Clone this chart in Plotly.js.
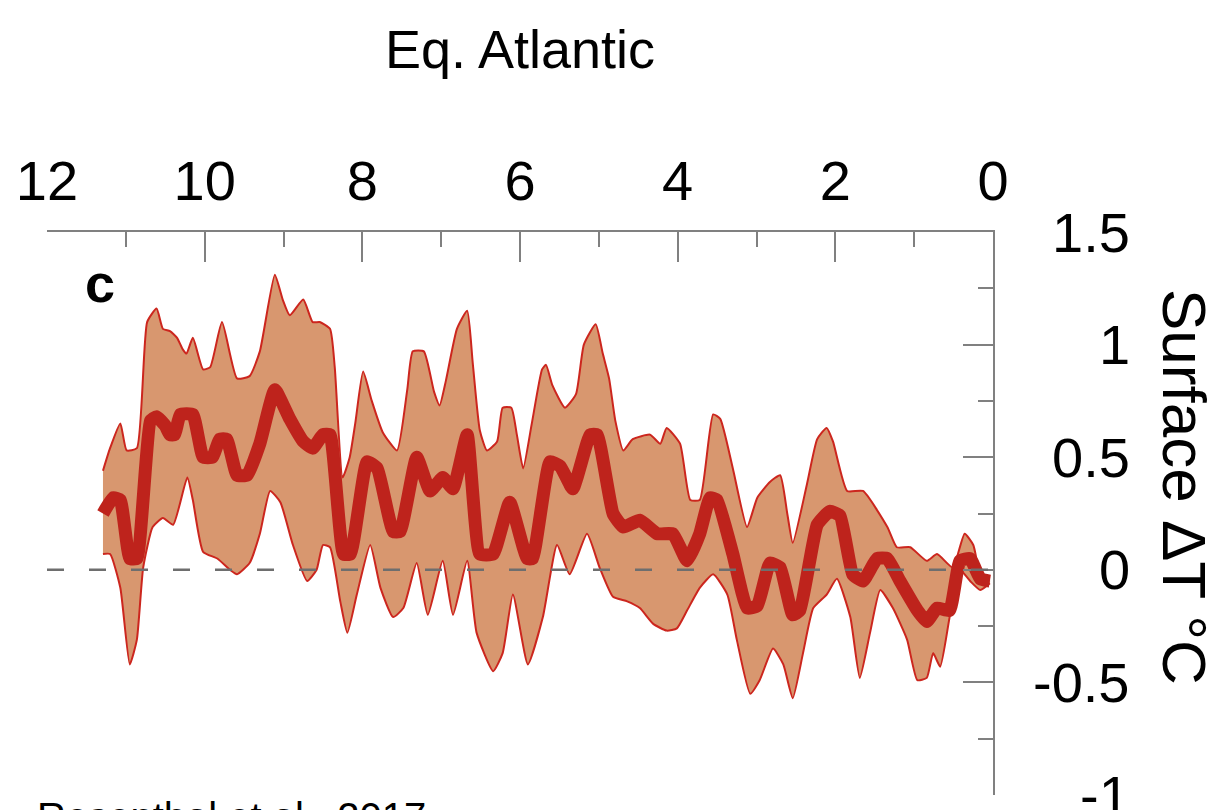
<!DOCTYPE html>
<html>
<head>
<meta charset="utf-8">
<script src="https://cdn.plot.ly/plotly-3.0.1.min.js"></script>
<style>html,body{margin:0;padding:0;background:#fff;}#chart{width:1228px;height:810px;}</style>
</head>
<body>
<div id="chart"></div>
<script>
// Age in ka BP (x) and surface temperature anomaly in degC (y)
const meanAge = [11.29,11.16,11.07,10.95,10.86,10.69,10.61,10.50,10.44,10.38,10.31,10.15,10.02,9.90,9.81,9.72,9.59,9.46,9.30,9.11,8.92,8.75,8.63,8.50,8.41,8.24,8.15,7.94,7.81,7.61,7.52,7.31,7.14,6.98,6.85,6.67,6.51,6.34,6.13,5.91,5.84,5.62,5.49,5.33,5.11,5.02,4.82,4.69,4.48,4.26,4.06,3.88,3.72,3.59,3.50,3.30,3.12,2.99,2.83,2.70,2.54,2.45,2.23,2.07,1.94,1.78,1.65,1.47,1.34,1.18,0.96,0.84,0.71,0.55,0.42,0.29,0.16,0.04];
const meanT = [0.25,0.32,0.31,0.05,0.05,0.66,0.68,0.64,0.60,0.60,0.69,0.69,0.50,0.50,0.58,0.58,0.42,0.42,0.56,0.80,0.67,0.57,0.54,0.60,0.60,0.07,0.07,0.48,0.45,0.17,0.17,0.50,0.35,0.41,0.36,0.60,0.07,0.07,0.30,0.05,0.05,0.48,0.46,0.36,0.60,0.60,0.25,0.19,0.22,0.16,0.16,0.04,0.16,0.32,0.31,0.07,-0.17,-0.16,0.03,0.01,-0.20,-0.18,0.20,0.26,0.24,-0.02,-0.05,0.05,0.05,-0.05,-0.18,-0.23,-0.17,-0.18,0.04,0.05,-0.04,-0.05];

const upperAge = [11.29,11.20,11.07,10.99,10.86,10.73,10.61,10.53,10.44,10.35,10.28,10.23,10.15,10.02,9.93,9.78,9.59,9.43,9.30,9.11,9.01,8.92,8.75,8.63,8.54,8.41,8.35,8.25,8.16,8.09,7.99,7.88,7.74,7.56,7.43,7.36,7.22,7.09,7.02,6.94,6.80,6.67,6.60,6.51,6.42,6.29,6.22,6.11,6.04,5.96,5.85,5.72,5.67,5.59,5.43,5.29,5.19,5.04,4.95,4.87,4.79,4.69,4.57,4.35,4.22,4.14,3.97,3.84,3.72,3.55,3.46,3.30,3.12,2.99,2.83,2.70,2.61,2.54,2.36,2.23,2.11,2.03,1.85,1.65,1.34,1.22,1.05,0.84,0.71,0.51,0.36,0.25,0.16,0.04];
const upperT = [0.44,0.54,0.65,0.53,0.54,1.10,1.16,1.07,1.06,1.03,0.98,0.96,1.03,0.89,0.90,1.10,0.85,0.86,0.97,1.31,1.20,1.13,1.20,1.10,1.10,1.07,0.90,0.41,0.50,0.65,0.88,0.75,0.61,0.53,0.80,0.97,0.97,0.79,0.73,0.84,1.07,1.15,0.92,0.62,0.53,0.57,0.72,0.72,0.60,0.45,0.65,0.89,0.91,0.82,0.72,0.78,1.00,1.09,0.96,0.85,0.66,0.53,0.58,0.60,0.56,0.63,0.56,0.31,0.31,0.69,0.67,0.45,0.19,0.32,0.39,0.42,0.25,0.12,0.38,0.58,0.63,0.57,0.35,0.35,0.19,0.10,0.10,0.04,0.07,0.01,0.16,0.11,-0.02,-0.04];

const lowerAge = [11.29,11.20,11.07,10.95,10.86,10.78,10.66,10.53,10.40,10.22,10.15,10.02,9.84,9.68,9.59,9.43,9.30,9.17,9.04,8.88,8.70,8.58,8.50,8.41,8.28,8.19,8.07,7.90,7.77,7.61,7.48,7.31,7.17,6.98,6.85,6.67,6.55,6.34,6.22,6.09,5.90,5.71,5.53,5.37,5.15,4.99,4.82,4.64,4.48,4.31,4.14,4.01,3.88,3.72,3.55,3.37,3.25,3.08,2.96,2.79,2.66,2.54,2.41,2.28,2.11,1.98,1.81,1.69,1.56,1.43,1.27,1.09,0.96,0.84,0.76,0.67,0.55,0.42,0.29,0.16,0.04];
const lowerT = [0.07,0.07,-0.08,-0.42,-0.31,0.01,0.19,0.23,0.20,0.41,0.31,0.08,0.05,0.00,-0.02,0.03,0.16,0.35,0.30,0.11,-0.05,0.00,0.11,0.10,-0.14,-0.28,-0.11,0.11,-0.08,-0.21,-0.17,0.03,-0.20,0.04,-0.20,0.04,-0.28,-0.45,-0.37,-0.11,-0.42,-0.21,0.11,-0.02,0.16,0.01,-0.12,-0.14,-0.17,-0.24,-0.27,-0.26,-0.18,-0.08,-0.02,-0.11,-0.31,-0.55,-0.49,-0.35,-0.42,-0.57,-0.37,-0.17,-0.11,-0.04,-0.21,-0.48,-0.28,-0.09,-0.17,-0.31,-0.49,-0.48,-0.37,-0.43,-0.21,0.00,-0.05,-0.09,-0.06];

const xTickVals = [12,10,8,6,4,2,0];
const yTickVals = [1.5,1,0.5,0,-0.5,-1];
const yTickText = ['1.5','1','0.5','0','-0.5','-1'];

const titleText = 'Eq. Atlantic';
const yTitleText = 'Surface \u0394T \u00B0C';
const panelLabel = 'c';
const sourceText = 'Rosenthal et al., 2017';

const FONT = 'Liberation Sans, Arial, sans-serif';
const bandFill = 'rgb(216,151,111)';
const edgeRed = 'rgb(204,38,30)';
const meanRed = 'rgb(190,35,28)';
const grey = 'rgb(128,128,128)';

const bandX = upperAge.concat(lowerAge.slice().reverse());
const bandY = upperT.concat(lowerT.slice().reverse());

const traces = [
  {x: bandX, y: bandY, type: 'scatter', mode: 'lines', fill: 'toself', fillcolor: bandFill, line: {width: 0, shape: 'spline', smoothing: 0.5}, hoverinfo: 'skip', showlegend: false},
  {x: upperAge, y: upperT, type: 'scatter', mode: 'lines', line: {color: edgeRed, width: 2, shape: 'spline', smoothing: 0.5}, showlegend: false},
  {x: lowerAge, y: lowerT, type: 'scatter', mode: 'lines', line: {color: edgeRed, width: 2, shape: 'spline', smoothing: 0.5}, showlegend: false},
  {x: meanAge, y: meanT, type: 'scatter', mode: 'lines', line: {color: meanRed, width: 13, shape: 'spline', smoothing: 0.4}, showlegend: false}
];

const annotations = yTickVals.map((v, i) => ({
  text: yTickText[i], xref: 'paper', yref: 'y', x: 1.147, y: v,
  xanchor: 'right', yanchor: 'middle', showarrow: false,
  font: {family: FONT, size: 56, color: '#000'}
}));
annotations.push({
  text: yTitleText, xref: 'paper', yref: 'paper', x: 1.203, y: 0.547,
  xanchor: 'center', yanchor: 'middle', textangle: 90, showarrow: false,
  font: {family: FONT, size: 62, color: '#000'}
});
annotations.push({
  text: '<b>' + panelLabel + '</b>', xref: 'paper', yref: 'paper', x: 0.056, y: 0.909,
  xanchor: 'center', yanchor: 'middle', showarrow: false,
  font: {family: FONT, size: 54, color: '#000'}
});
annotations.push({
  text: sourceText, xref: 'paper', yref: 'paper', x: -0.013, y: 0.004,
  xanchor: 'left', yanchor: 'top', showarrow: false,
  font: {family: FONT, size: 40, color: '#000'}
});

const layout = {
  width: 1228, height: 810,
  margin: {l: 47, r: 235, t: 232, b: 15},
  paper_bgcolor: '#fff', plot_bgcolor: '#fff',
  showlegend: false,
  title: {text: titleText, x: 0.5, xref: 'paper', xanchor: 'center', y: 0.94, yanchor: 'middle',
          font: {family: FONT, size: 54, color: '#000'}},
  xaxis: {
    side: 'top', range: [12, 0], tickvals: xTickVals, ticktext: xTickVals.map(String),
    ticks: 'inside', ticklen: 30, tickwidth: 2, tickcolor: grey,
    minor: {dtick: 1, tick0: 0, ticks: 'inside', ticklen: 15, tickwidth: 2, tickcolor: grey, showgrid: false},
    showline: true, linecolor: grey, linewidth: 2, showgrid: false, zeroline: false,
    ticklabelstandoff: 8,
    tickfont: {family: FONT, size: 56, color: '#000'}
  },
  yaxis: {
    side: 'right', range: [-1, 1.5], tickvals: yTickVals,
    ticks: 'inside', ticklen: 30, tickwidth: 2, tickcolor: grey,
    minor: {dtick: 0.25, tick0: 0, ticks: 'inside', ticklen: 15, tickwidth: 2, tickcolor: grey, showgrid: false},
    showline: true, linecolor: grey, linewidth: 2, showgrid: false, zeroline: false,
    showticklabels: false
  },
  shapes: [{
    type: 'line', xref: 'paper', x0: 0, x1: 1, yref: 'y', y0: 0, y1: 0,
    line: {color: 'rgb(110,110,110)', width: 2.5, dash: '17px,25px'}, layer: 'above'
  }],
  annotations: annotations
};

Plotly.newPlot('chart', traces, layout, {displayModeBar: false, staticPlot: true});
</script>
</body>
</html>
